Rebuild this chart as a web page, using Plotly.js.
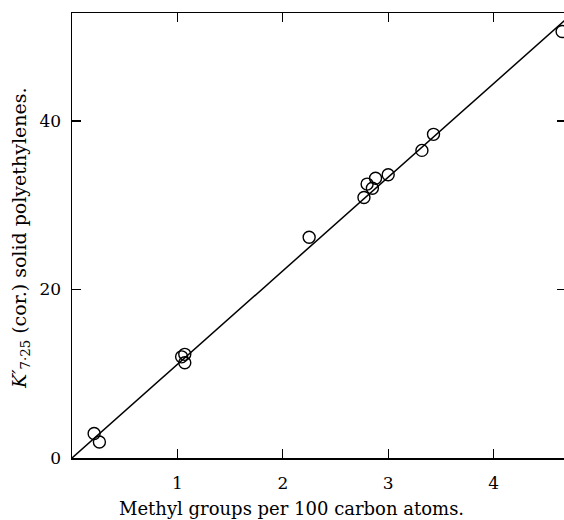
<!DOCTYPE html>
<html>
<head>
<meta charset="utf-8">
<script src="https://cdn.plot.ly/plotly-3.0.1.min.js"></script>
<style>
  html, body { margin: 0; padding: 0; background: #fff; overflow: hidden; }
  #chart { width: 566px; height: 520px; }
</style>
</head>
<body>
<div id="chart"></div>
<script>
// Measured samples: methyl groups per 100 C atoms vs K'7.25 (cor.)
const methylGroups = [0.21, 0.26, 1.04, 1.07, 1.07, 2.25, 2.77, 2.80, 2.85, 2.88, 3.00, 3.32, 3.43, 4.65];
const kValues      = [2.9, 1.9, 12.0, 12.3, 11.3, 26.2, 30.9, 32.5, 32.0, 33.2, 33.6, 36.5, 38.4, 50.6];

// Fitted straight line end points
const fitX = [0, 4.75];
const fitY = [0, 52.75];

const xTickVals = [1, 2, 3, 4];
const yTickVals = [0, 20, 40];

const serif = "DejaVu Serif, Liberation Serif, serif";

const traces = [
  {
    x: fitX, y: fitY, mode: "lines", type: "scatter",
    line: { color: "#000", width: 1.5 }, hoverinfo: "skip", cliponaxis: true
  },
  {
    x: methylGroups, y: kValues, mode: "markers", type: "scatter",
    marker: { symbol: "circle-open", size: 12, color: "#000", line: { width: 1.4, color: "#000" } },
    cliponaxis: true
  }
];

const layout = {
  width: 566, height: 520,
  margin: { l: 72, r: 0, t: 13, b: 62 },
  paper_bgcolor: "#fff", plot_bgcolor: "#fff",
  showlegend: false,
  font: { family: serif, color: "#000", size: 15 },
  xaxis: {
    range: [0, 4.687],
    tickvals: xTickVals, ticktext: xTickVals.map(String),
    ticks: "inside", ticklen: 9, tickwidth: 1.3, tickcolor: "#000",
    showline: true, linecolor: "#000", linewidth: 1.5, mirror: "ticks",
    showgrid: false, zeroline: false,
    tickfont: { family: serif, size: 17 },
    ticklabelstandoff: 9
  },
  yaxis: {
    range: [0, 52.8],
    tickvals: yTickVals, ticktext: yTickVals.map(String),
    ticks: "inside", ticklen: 9, tickwidth: 1.3, tickcolor: "#000",
    showline: true, linecolor: "#000", linewidth: 1.5, mirror: "ticks",
    showgrid: false, zeroline: false,
    tickfont: { family: serif, size: 17 },
    ticklabelstandoff: 6
  },
  annotations: [
    {
      text: "Methyl groups per 100 carbon atoms.",
      xref: "paper", yref: "paper", x: (291 - 72) / 494, y: 0,
      yshift: -50, xanchor: "center", yanchor: "middle", showarrow: false,
      font: { family: serif, size: 18 }
    },
    {
      text: "<i>K′</i><sub>7·25</sub> (cor.) solid polyethylenes.",
      xref: "paper", yref: "paper", x: 0, y: (458 - 238) / 445,
      xshift: -52, xanchor: "center", yanchor: "middle", showarrow: false,
      textangle: -90,
      font: { family: serif, size: 19 }
    }
  ]
};

Plotly.newPlot("chart", traces, layout, { displayModeBar: false, staticPlot: true });
</script>
</body>
</html>
